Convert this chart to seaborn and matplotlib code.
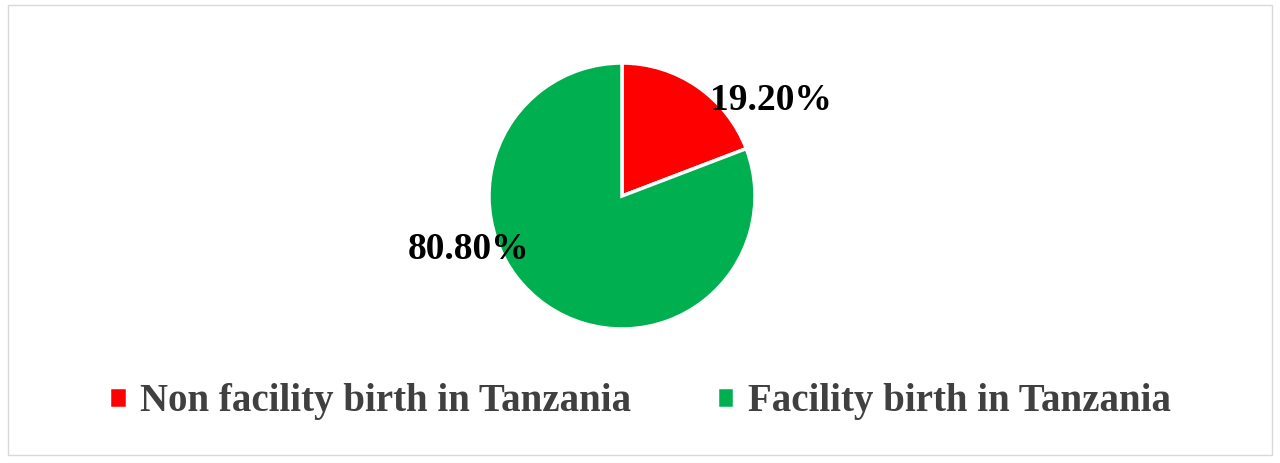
import matplotlib
matplotlib.use("Agg")
import matplotlib.pyplot as plt
import seaborn as sns
from matplotlib.patches import Rectangle

sns.set_theme(style="white")
plt.rcParams['font.family'] = ['Liberation Serif', 'DejaVu Serif']

categories = ["Non facility birth in Tanzania", "Facility birth in Tanzania"]
values = [19.20, 80.80]
colors = ["#ff0000", "#00b050"]

fig = plt.figure(figsize=(12.8, 4.63), dpi=100)
W, H = 1280, 463
cx, cy, r = 622, 196, 133
ax = fig.add_axes([(cx - r) / W, 1 - (cy + r) / H, 2 * r / W, 2 * r / H])
wedges, texts, autotexts = ax.pie(values, colors=colors, startangle=90, counterclock=False,
                                  autopct=lambda p: f"{p:.2f}%",
                                  wedgeprops=dict(edgecolor="white", linewidth=2.5))
ax.set_aspect("equal")
ax.set_xlim(-1, 1); ax.set_ylim(-1, 1)
for t, pos in zip(autotexts, [(1.12, 0.72), (-1.15, -0.40)]):
    t.set_position(pos)
    t.set_fontsize(27); t.set_fontweight("bold"); t.set_color("black")
    t.set_ha("center"); t.set_va("center")

fig.legend(wedges, categories, loc="center", bbox_to_anchor=(0.5, 1 - 402 / H), ncol=2,
           frameon=False, prop=dict(size=28, weight="bold"), handlelength=0.45, handleheight=0.45,
           columnspacing=2.2, handletextpad=0.35, labelcolor="#404040")

fig.patches.append(Rectangle((8 / W, 1 - 455 / H), 1264 / W, 450 / H, transform=fig.transFigure,
                             fill=False, edgecolor="#d9d9d9", linewidth=1))
fig.savefig("out.png", dpi=100, facecolor="white")
